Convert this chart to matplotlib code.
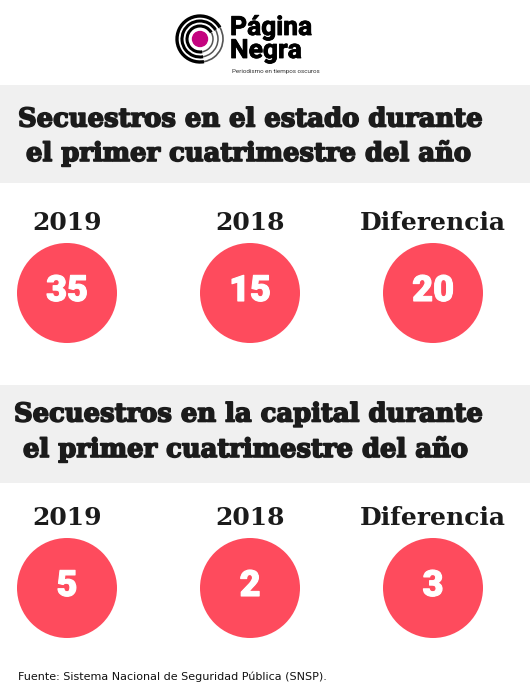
import matplotlib.pyplot as plt
from matplotlib.patches import Circle, Rectangle, Arc
import matplotlib.patheffects as pe

# data
labels = ["2019", "2018", "Diferencia"]
estado = [35, 15, 20]
capital = [5, 2, 3]
titles = [
    ("Secuestros en el estado durante", "el primer cuatrimestre del año"),
    ("Secuestros en la capital durante", "el primer cuatrimestre del año"),
]
source = "Fuente: Sistema Nacional de Seguridad Pública (SNSP)."

W, H = 530, 693
fig = plt.figure(figsize=(W / 100, H / 100), dpi=100)
ax = fig.add_axes([0, 0, 1, 1])
ax.set_xlim(0, W)
ax.set_ylim(H, 0)
ax.axis("off")

red = "#fe4b5d"
band = "#f0f0f0"
dark = "#1b1b1b"
slab = ["DejaVu Serif"]
sans = ["Roboto", "DejaVu Sans"]

def thick(w, c):
    return [pe.withStroke(linewidth=w, foreground=c)]

# logo
cx, cy = 200, 39
ax.add_patch(Circle((cx, cy), 7.5, color="#c4047f"))
for r, lw in [(13, 2.2), (18, 2.2), (23, 2.4)]:
    ax.add_patch(Arc((cx, cy), 2 * r, 2 * r, theta1=80, theta2=330, lw=lw, color="black"))
    ax.add_patch(Arc((cx, cy), 2 * r, 2 * r, theta1=-30, theta2=80, lw=lw * 0.5, color="#555555"))
ax.text(230, 28, "Página", fontsize=19, fontweight="bold", family=sans,
        ha="left", va="center", color="black", path_effects=thick(0.6, "black"))
ax.text(230, 51, "Negra", fontsize=19, fontweight="bold", family=sans,
        ha="left", va="center", color="black", path_effects=thick(0.6, "black"))
ax.text(232, 72, "Periodismo en tiempos oscuros", fontsize=4.5, family=sans,
        ha="left", va="center", color="#333333")

cols_x = [67, 250, 433]
sections = [
    dict(vals=estado, band=(85, 183), t1=119, t2=153, lab=223, circ=293, tx=(18, 26)),
    dict(vals=capital, band=(385, 483), t1=414, t2=449, lab=518, circ=588, tx=(14, 23)),
]

for sec, (l1, l2) in zip(sections, titles):
    y0, y1 = sec["band"]
    ax.add_patch(Rectangle((0, y0), W, y1 - y0, color=band, lw=0))
    ax.text(sec["tx"][0], sec["t1"], l1, fontsize=18.6, fontweight="bold", family=slab,
            ha="left", va="center", color=dark, path_effects=thick(1.2, dark))
    ax.text(sec["tx"][1], sec["t2"], l2, fontsize=18.6, fontweight="bold", family=slab,
            ha="left", va="center", color=dark, path_effects=thick(1.2, dark))
    for x, lab, v in zip(cols_x, labels, sec["vals"]):
        ax.text(x, sec["lab"], lab, fontsize=18, fontweight="bold", family=slab,
                ha="center", va="center", color=dark)
        ax.add_patch(Circle((x, sec["circ"]), 50, color=red, lw=0))
        ax.text(x, sec["circ"] - 2, str(v), fontsize=26, fontweight="black", family=sans,
                ha="center", va="center", color="white", path_effects=thick(0.8, "white"))

ax.text(18, 677, source, fontsize=8.0, family=["DejaVu Sans"], ha="left", va="center",
        color="#111111")

fig.savefig("out.png", dpi=100)
